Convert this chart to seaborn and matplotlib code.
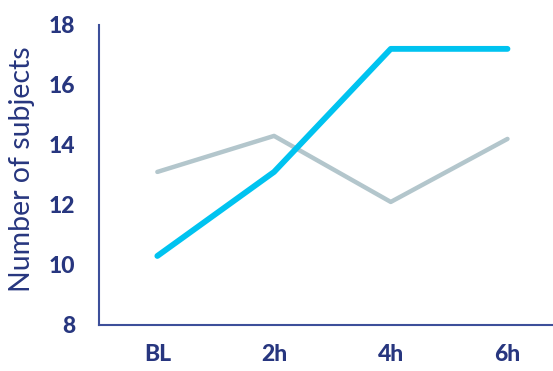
import matplotlib
matplotlib.use("Agg")
import matplotlib.pyplot as plt
import seaborn as sns
import pandas as pd

timepoints = ["BL", "2h", "4h", "6h"]
series_blue = [10.3, 13.1, 17.2, 17.2]
series_gray = [13.1, 14.3, 12.1, 14.2]
y_ticks = [8, 10, 12, 14, 16, 18]

navy = "#27367f"
spine_col = "#3d4f9a"
blue = "#00c3f0"
gray = "#b3c6cc"

sns.set_theme(style="white")
plt.rcParams['font.family'] = ['Lato', 'DejaVu Sans']

df = pd.DataFrame({
    "time": timepoints * 2,
    "value": series_gray + series_blue,
    "group": ["gray"] * 4 + ["blue"] * 4,
})

fig = plt.figure(figsize=(5.53, 3.71), dpi=100)
ax = fig.add_axes([0.179, 0.124, 0.821, 0.809])
sns.lineplot(data=df, x="time", y="value", hue="group",
             palette={"gray": gray, "blue": blue}, ax=ax, legend=False,
             sort=False)
for line, lw in zip(ax.lines, [3.2, 4.2]):
    line.set_linewidth(lw)
    line.set_solid_capstyle("round")
    line.set_solid_joinstyle("round")

ax.set_xlim(-0.5, 3.39)
ax.set_ylim(8, 18)
ax.set_yticks(y_ticks)
ax.set_yticklabels([str(t) for t in y_ticks])
ax.set_xlabel("")
ax.set_ylabel("Number of subjects", fontsize=20.5, color=navy, labelpad=6)
ax.yaxis.set_label_coords(-0.14, 0.52)
for lab in ax.get_xticklabels() + ax.get_yticklabels():
    lab.set_fontweight("black")
    lab.set_fontsize(16.5)
    lab.set_color(navy)
ax.tick_params(axis="x", pad=14, length=0)
ax.tick_params(axis="y", pad=17, length=0)
sns.despine(ax=ax)
for s in ["left", "bottom"]:
    ax.spines[s].set_color(spine_col)
    ax.spines[s].set_linewidth(1.5)
ax.grid(False)

fig.savefig("out.png", dpi=100)
